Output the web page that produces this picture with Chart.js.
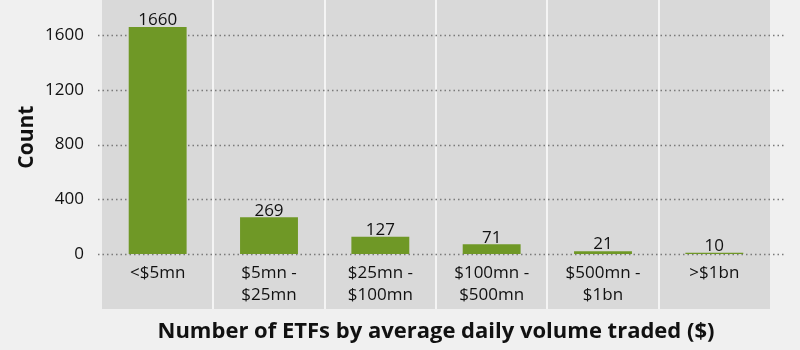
<!DOCTYPE html>
<html>
<head>
<meta charset="utf-8">
<script src="https://cdn.jsdelivr.net/npm/chart.js@4"></script>
<style>
    html, body { margin: 0; padding: 0; background: #f0f0f0; }
    canvas { display: block; }
</style>
</head>
<body>
<canvas id="chartEtfs" width="800" height="350"></canvas>
<script>
const categories = [["<$5mn"], ["$5mn -", "$25mn"], ["$25mn -", "$100mn"], ["$100mn -", "$500mn"], ["$500mn -", "$1bn"], [">$1bn"]];
const counts = [1660, 269, 127, 71, 21, 10];
const yTicks = [0, 400, 800, 1200, 1600];

const fontFamily = "'Open Sans', sans-serif";
const barColor = "#6f9826";
const panelColor = "#d9d9d9";

// grey panel + white separators between categories
const panelPlugin = {
    id: "panel",
    beforeDraw(chart) {
        const { ctx, chartArea, scales } = chart;
        const x = scales.x;
        ctx.save();
        ctx.fillStyle = "#f0f0f0";
        ctx.fillRect(0, 0, chart.width, chart.height);
        ctx.fillStyle = panelColor;
        ctx.fillRect(chartArea.left, 0, chartArea.right - chartArea.left, chartArea.bottom + 55);
        ctx.strokeStyle = "#f4f4f4";
        ctx.lineWidth = 2;
        for (let i = 0; i < categories.length - 1; i++) {
            const bx = Math.round((x.getPixelForTick(i) + x.getPixelForTick(i + 1)) / 2);
            ctx.beginPath();
            ctx.moveTo(bx, 0);
            ctx.lineTo(bx, chartArea.bottom + 55);
            ctx.stroke();
        }
        ctx.restore();
    },
    beforeDatasetsDraw(chart) {
        const { ctx, chartArea, scales } = chart;
        ctx.save();
        ctx.strokeStyle = "#7a7a7a";
        ctx.lineWidth = 1.5;
        ctx.setLineDash([1.5, 3]);
        yTicks.forEach(v => {
            const py = Math.round(scales.y.getPixelForValue(v)) + 0.5;
            ctx.beginPath();
            ctx.moveTo(chartArea.left - 4, py);
            ctx.lineTo(chartArea.right + 14, py);
            ctx.stroke();
        });
        ctx.restore();
    },
    afterDatasetsDraw(chart) {
        const { ctx } = chart;
        const meta = chart.getDatasetMeta(0);
        ctx.save();
        ctx.fillStyle = "#111";
        ctx.font = "17px " + fontFamily;
        ctx.textAlign = "center";
        ctx.textBaseline = "bottom";
        meta.data.forEach((bar, i) => {
            ctx.fillText(String(counts[i]), bar.x, bar.y + 2);
        });
        ctx.restore();
    }
};

new Chart(document.getElementById("chartEtfs"), {
    type: "bar",
    data: {
        labels: categories,
        datasets: [{
            data: counts,
            backgroundColor: barColor,
            barPercentage: 0.52,
            categoryPercentage: 1
        }]
    },
    options: {
        responsive: false,
        animation: false,
        layout: { padding: { top: 0, right: 30, left: 0, bottom: 0 } },
        plugins: {
            legend: { display: false },
            tooltip: { enabled: false }
        },
        scales: {
            x: {
                grid: { display: false },
                border: { display: false },
                ticks: {
                    color: "#111",
                    font: { family: fontFamily, size: 17, lineHeight: 1.3 },
                    padding: 0,
                    maxRotation: 0
                },
                title: {
                    display: true,
                    text: "Number of ETFs by average daily volume traded ($)",
                    color: "#111",
                    font: { family: fontFamily, size: 22, weight: "bold" },
                    padding: { top: 8, bottom: 5 }
                },
                afterFit(scale) { scale.height = 96; }
            },
            y: {
                min: 0,
                max: 1710,
                grid: { display: false },
                border: { display: false },
                afterBuildTicks(scale) {
                    scale.ticks = yTicks.map(v => ({ value: v }));
                },
                ticks: {
                    color: "#111",
                    font: { family: fontFamily, size: 17 },
                    padding: 10,
                    callback: v => String(v)
                },
                title: {
                    display: true,
                    text: "Count",
                    color: "#111",
                    font: { family: fontFamily, size: 21, weight: "bold" },
                    padding: { top: 14, bottom: 0 }
                },
                afterFit(scale) { scale.width = 102; }
            }
        }
    },
    plugins: [panelPlugin]
});
</script>
</body>
</html>
